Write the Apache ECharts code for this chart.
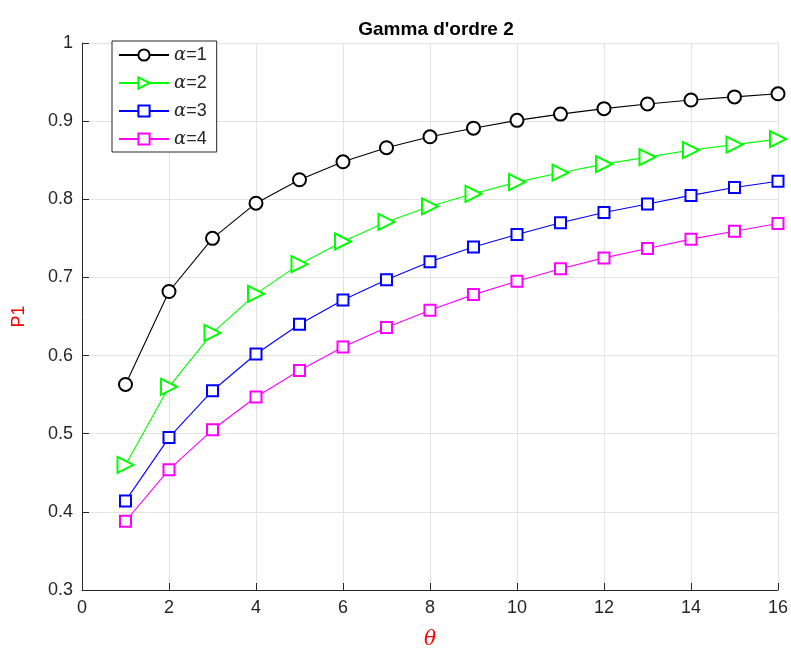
<!DOCTYPE html>
<html>
<head>
<meta charset="utf-8">
<script src="https://cdn.jsdelivr.net/npm/echarts@6/dist/echarts.min.js"></script>
<style>
  html, body { margin: 0; padding: 0; background: #fff; }
  #chart { width: 791px; height: 655px; }
</style>
</head>
<body>
<div id="chart"></div>
<script>
const theta = [1, 2, 3, 4, 5, 6, 7, 8, 9, 10, 11, 12, 13, 14, 15, 16];
const alpha1 = [0.563, 0.682, 0.750, 0.795, 0.825, 0.848, 0.866, 0.880, 0.891, 0.901, 0.909, 0.916, 0.922, 0.927, 0.931, 0.935];
const alpha2 = [0.460, 0.560, 0.629, 0.679, 0.717, 0.746, 0.771, 0.791, 0.807, 0.822, 0.834, 0.845, 0.854, 0.863, 0.870, 0.877];
const alpha3 = [0.414, 0.495, 0.555, 0.602, 0.640, 0.671, 0.697, 0.720, 0.739, 0.755, 0.770, 0.783, 0.794, 0.805, 0.815, 0.823];
const alpha4 = [0.388, 0.454, 0.505, 0.547, 0.581, 0.611, 0.636, 0.658, 0.678, 0.695, 0.711, 0.725, 0.737, 0.749, 0.759, 0.769];
const seriesNames = ['α=1', 'α=2', 'α=3', 'α=4'];

const chart = echarts.init(document.getElementById('chart'));

const pairs = ys => theta.map((t, i) => [t, ys[i]]);
const axisColor = '#262626';

function makeSeries(name, ys, color, symbol, size, rotate) {
  return {
    name: name,
    type: 'line',
    data: pairs(ys),
    symbol: symbol,
    symbolSize: size,
    symbolRotate: rotate || 0,
    showAllSymbol: true,
    lineStyle: { color: color, width: 1.1 },
    itemStyle: { color: color, borderColor: color, borderWidth: 0.8 },
    emphasis: { disabled: true }
  };
}

const option = {
  animation: false,
  backgroundColor: '#fff',
  title: {
    text: "Gamma d'ordre 2",
    left: 431,
    textAlign: 'center',
    top: 15,
    textStyle: { fontFamily: 'Liberation Sans, Arial', fontWeight: 'bold', fontSize: 19, color: '#000' }
  },
  legend: {
    orient: 'vertical',
    left: 112,
    top: 41,
    padding: [5, 10, 4, 6],
    itemGap: 10,
    itemWidth: 50,
    itemHeight: 14,
    backgroundColor: '#fff',
    borderColor: '#262626',
    borderWidth: 1,
    borderRadius: 0,
    symbolRotate: 'inherit',
    data: seriesNames,
    formatter: function (name) {
      return '{a|α}{b|' + name.slice(1) + '}';
    },
    textStyle: {
      rich: {
        a: { fontFamily: 'DejaVu Serif, Liberation Serif', fontStyle: 'italic', fontSize: 18, color: '#262626' },
        b: { fontFamily: 'Liberation Sans, Arial', fontSize: 18, color: '#262626' }
      }
    }
  },
  grid: { left: 82, right: 11, top: 43, bottom: 63, containLabel: false },
  xAxis: {
    type: 'value',
    min: 0,
    max: 16,
    interval: 2,
    name: 'θ',
    nameLocation: 'middle',
    nameGap: 40,
    nameTextStyle: { fontFamily: 'DejaVu Serif, Liberation Serif', fontStyle: 'italic', fontSize: 20, color: '#ff0000' },
    axisLine: { lineStyle: { color: axisColor, width: 1 } },
    axisTick: { inside: true, length: 7, lineStyle: { color: axisColor } },
    axisLabel: { fontFamily: 'Liberation Sans, Arial', fontSize: 18, color: axisColor, margin: 9 },
    splitLine: { show: true, lineStyle: { color: '#e3e3e3', width: 1 } }
  },
  yAxis: {
    type: 'value',
    min: 0.3,
    max: 1,
    interval: 0.1,
    name: 'P1',
    nameLocation: 'middle',
    nameGap: 54,
    nameRotate: 90,
    nameTextStyle: { fontFamily: 'Liberation Sans, Arial', fontSize: 18, color: '#ff0000' },
    axisLine: { show: true, lineStyle: { color: axisColor, width: 1 } },
    axisTick: { show: true, inside: true, length: 7, lineStyle: { color: axisColor } },
    axisLabel: {
      fontFamily: 'Liberation Sans, Arial', fontSize: 18, color: axisColor, margin: 9,
      formatter: v => String(Math.round(v * 10) / 10)
    },
    splitLine: { show: true, lineStyle: { color: '#e3e3e3', width: 1 } }
  },
  series: [
    makeSeries(seriesNames[0], alpha1, '#000000', 'emptyCircle', 13),
    makeSeries(seriesNames[1], alpha2, '#00ff00', 'emptyTriangle', 16, -90),
    makeSeries(seriesNames[2], alpha3, '#0000ff', 'emptyRect', 11),
    makeSeries(seriesNames[3], alpha4, '#ff00ff', 'emptyRect', 11)
  ]
};

chart.setOption(option);
</script>
</body>
</html>
